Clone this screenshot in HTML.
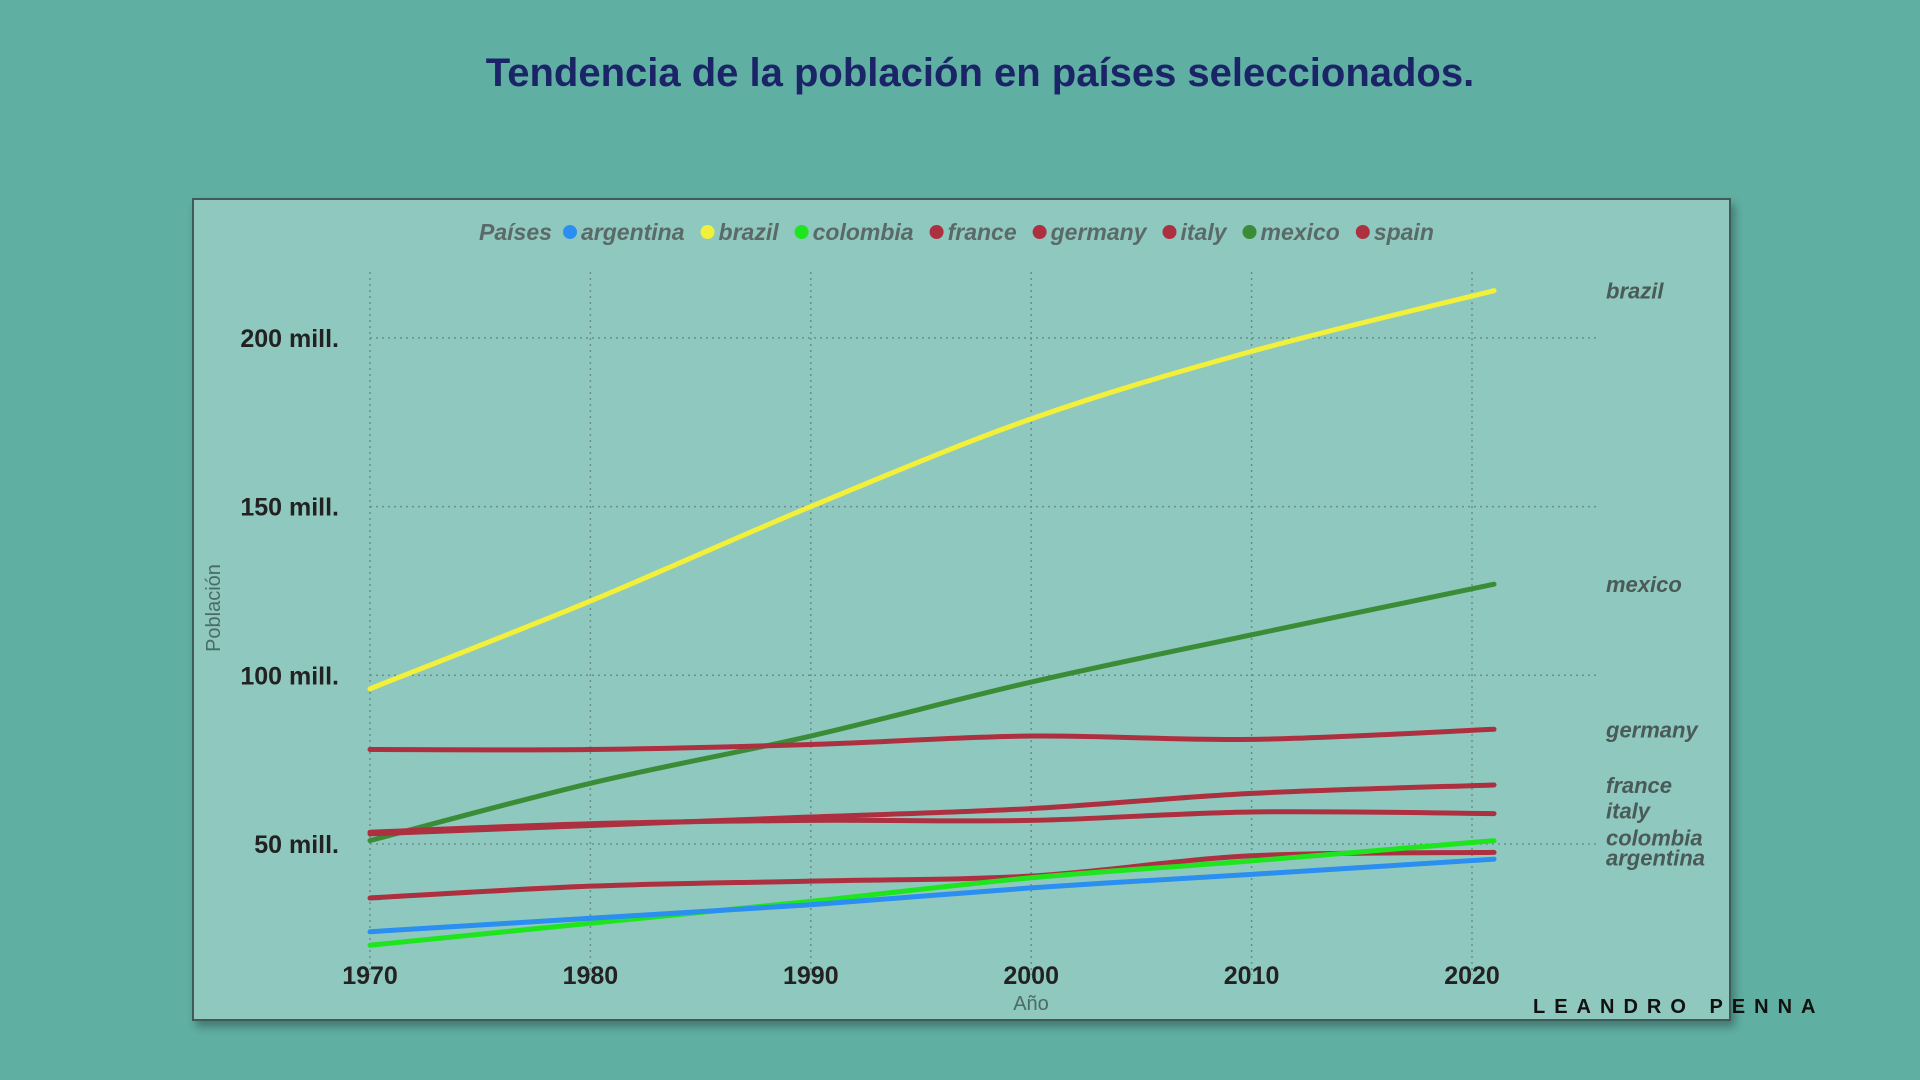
<!DOCTYPE html>
<html><head><meta charset="utf-8"><style>
body{margin:0;width:1920px;height:1080px;background:#5fafa3;font-family:"Liberation Sans",sans-serif;overflow:hidden;position:relative}
#title{position:absolute;top:51px;left:0;width:1960px;text-align:center;font-size:40px;font-weight:bold;color:#1b2466}
#panel{position:absolute;left:192px;top:198px;width:1535px;height:819px;background:#8fc8be;border:2px solid #3f5a57;box-shadow:4px 6px 8px rgba(0,0,0,.3)}
#sig{position:absolute;left:1533px;top:996px;font-size:20px;letter-spacing:9px;font-weight:bold;color:#111}
</style></head><body>
<div id="title">Tendencia de la población en países seleccionados.</div>
<div id="panel"></div>
<svg id="chart" width="1920" height="1080" style="position:absolute;left:0;top:0"></svg>
<div id="sig">LEANDRO PENNA</div>
<script>
const years=[1970,1980,1990,2000,2010,2021];
const countries=["brazil","mexico","germany","france","italy","spain","colombia","argentina"];
const brazil=[96,122,150,176,196,214];
const mexico=[51,68,82,98,112,127];
const germany=[78,78,79.5,82,81,84];
const france=[53,55.5,58,60.5,65,67.5];
const italy=[53.5,56,57,57,59.5,59];
const spain=[34,37.5,39,40.5,46.5,47.5];
const colombia=[20,26.5,33,40,45,51];
const argentina=[24,28,32,37,41,45.5];
const yTicks=[50,100,150,200];
const yTickLabels=["50 mill.","100 mill.","150 mill.","200 mill."];
const xTicks=[1970,1980,1990,2000,2010,2020];
const legendItems=["argentina","brazil","colombia","france","germany","italy","mexico","spain"];
const colors={argentina:"#2a8ff0",brazil:"#f2f03a",colombia:"#1ee51e",france:"#ad3040",germany:"#ad3040",italy:"#ad3040",mexico:"#3b8c36",spain:"#ad3040"};
const series={brazil,mexico,germany,france,italy,spain,colombia,argentina};
const labelY={brazil:214,mexico:127,germany:84,france:67.5,italy:60,colombia:52,argentina:46};
const NS="http://www.w3.org/2000/svg";
const svg=document.getElementById("chart");
const X=y=>370+(y-1970)*22.04;
const Y=v=>1012.7-v*3.374;
function mk(t,a,txt){const e=document.createElementNS(NS,t);for(const k in a)e.setAttribute(k,a[k]);if(txt!==undefined)e.textContent=txt;svg.appendChild(e);return e;}
xTicks.forEach(t=>{const e=mk("line",{x1:X(t),x2:X(t),y1:272,y2:975,stroke:"#6b8f8a","stroke-dasharray":"2,4","stroke-width":1.5});

const l=mk("text",{x:X(t),y:984,"text-anchor":"middle","font-size":25,"font-weight":"bold",fill:"#222"},t);
});
yTicks.forEach((t,i)=>{const e=mk("line",{x1:370,x2:1598,y1:Y(t),y2:Y(t),stroke:"#6b8f8a","stroke-dasharray":"2,4","stroke-width":1.5});

const l=mk("text",{x:339,y:Y(t)+9,"text-anchor":"end","font-size":25,"font-weight":"bold",fill:"#222"},yTickLabels[i]);
});
const ax=mk("text",{x:1031,y:1010,"text-anchor":"middle","font-size":20,fill:"#4a6b66"},"Año");

const ay=mk("text",{x:220,y:608,"text-anchor":"middle","font-size":20,fill:"#4a6b66",transform:"rotate(-90 220 608)"},"Población");

countries.forEach(c=>{const v=series[c];const pts=years.map((y,i)=>[X(y),Y(v[i])]);
let d="M"+pts[0];for(let i=1;i<pts.length;i++){const p0=pts[i-2]||pts[i-1],p1=pts[i-1],p2=pts[i],p3=pts[i+1]||p2;
d+=" C"+(p1[0]+(p2[0]-p0[0])/6)+","+(p1[1]+(p2[1]-p0[1])/6)+" "+(p2[0]-(p3[0]-p1[0])/6)+","+(p2[1]-(p3[1]-p1[1])/6)+" "+p2;}
const p=mk("path",{d,fill:"none",stroke:colors[c],"stroke-width":5,"stroke-linecap":"round"});

if(labelY[c]!==undefined){const t=mk("text",{x:1606,y:Y(labelY[c])+8,"font-size":22,"font-weight":"bold","font-style":"italic",fill:"#4a5a58"},c);
}});
let lx=479;const lt=mk("text",{x:lx,y:240,"font-size":23,"font-style":"italic","font-weight":"bold",fill:"#5a6a68"},"Países");

lx+=91;
legendItems.forEach(c=>{const g=mk("circle",{cx:lx,cy:232,r:7,fill:colors[c]});

const t=mk("text",{x:lx+11,y:240,"font-size":23,"font-style":"italic","font-weight":"bold",fill:"#5a6a68"},c);

lx+=t.getComputedTextLength()+34;});
</script>
</body></html>
